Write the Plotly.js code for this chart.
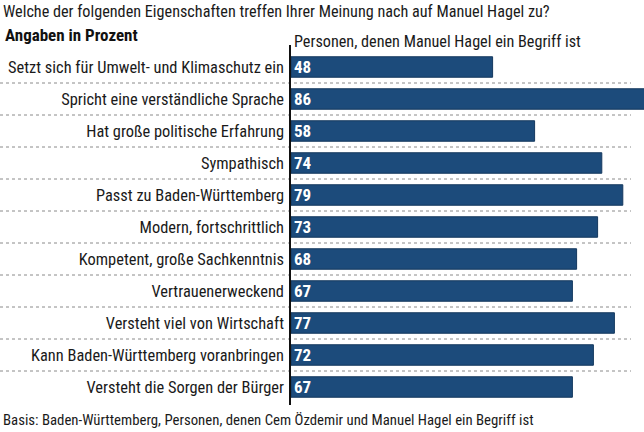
<!DOCTYPE html>
<html>
<head>
<meta charset="utf-8">
<script src="https://cdn.plot.ly/plotly-3.0.1.min.js"></script>
<style>
  html, body { margin: 0; padding: 0; background: #fff; }
  #chart { width: 644px; height: 432px; }
</style>
</head>
<body>
<div id="chart"></div>
<script>
var eigenschaften = [
  "Setzt sich für Umwelt- und Klimaschutz ein",
  "Spricht eine verständliche Sprache",
  "Hat große politische Erfahrung",
  "Sympathisch",
  "Passt zu Baden-Württemberg",
  "Modern, fortschrittlich",
  "Kompetent, große Sachkenntnis",
  "Vertrauenerweckend",
  "Versteht viel von Wirtschaft",
  "Kann Baden-Württemberg voranbringen",
  "Versteht die Sorgen der Bürger"
];
var werte = [48, 86, 58, 74, 79, 73, 68, 67, 77, 72, 67];

var titel = "Welche der folgenden Eigenschaften treffen Ihrer Meinung nach auf Manuel Hagel zu?";
var einheit = "Angaben in Prozent";
var spalte = "Personen, denen Manuel Hagel ein Begriff ist";
var basis = "Basis: Baden-Württemberg, Personen, denen Cem Özdemir und Manuel Hagel ein Begriff ist";

var schrift = "'Roboto Condensed', 'DejaVu Sans Condensed', sans-serif";
var blau = "#1c4b7b";
var textfarbe = "#1a1a1a";

// plot area in pixels
var links = 291, oben = 51, unten = 29, breite = 644 - links, hoehe = 432 - oben - unten;
function px(x) { return (x - links) / breite; }
function py(y) { return (432 - unten - y) / hoehe; }

var trace = {
  type: 'bar',
  orientation: 'h',
  x: werte,
  y: eigenschaften,
  marker: { color: blau, line: { color: '#14385e', width: 1 } },
  text: werte.map(function (v) { return '<b>' + v + '</b>'; }),
  textposition: 'inside',
  insidetextanchor: 'start',
  textangle: 0,
  constraintext: 'none',
  textfont: { family: schrift, size: 17, color: '#fff' },
  hoverinfo: 'none'
};

var shapes = [];
for (var i = 0; i < eigenschaften.length - 1; i++) {
  shapes.push({
    type: 'line', xref: 'paper', yref: 'y',
    x0: px(0), x1: px(631), y0: i + 0.5, y1: i + 0.5,
    line: { color: '#8a8a8a', width: 1, dash: 'dot' },
    layer: 'below'
  });
}
shapes.push({
  type: 'line', xref: 'paper', yref: 'paper',
  x0: px(290), x1: px(290), y0: py(405), y1: py(45),
  line: { color: '#111', width: 2 }
});

var layout = {
  width: 644,
  height: 432,
  margin: { l: links, r: 0, t: oben, b: unten, pad: 0 },
  paper_bgcolor: '#fff',
  plot_bgcolor: 'rgba(0,0,0,0)',
  showlegend: false,
  bargap: 0.36,
  font: { family: schrift, color: textfarbe },
  xaxis: {
    range: [0, breite / 4.2],
    visible: false,
    fixedrange: true
  },
  yaxis: {
    autorange: 'reversed',
    showgrid: false,
    zeroline: false,
    showline: false,
    ticks: '',
    ticklabelstandoff: 6,
    tickfont: { family: schrift, size: 16.4, color: textfarbe },
    fixedrange: true
  },
  shapes: shapes,
  annotations: [
    { text: titel, xref: 'paper', yref: 'paper', x: px(1), y: py(12), xanchor: 'left', yanchor: 'middle',
      showarrow: false, font: { family: schrift, size: 16.2, color: textfarbe } },
    { text: '<b>' + einheit + '</b>', xref: 'paper', yref: 'paper', x: px(3), y: py(35), xanchor: 'left', yanchor: 'middle',
      showarrow: false, font: { family: schrift, size: 17, color: '#111' } },
    { text: spalte, xref: 'paper', yref: 'paper', x: px(292), y: py(42), xanchor: 'left', yanchor: 'middle',
      showarrow: false, font: { family: schrift, size: 16.2, color: textfarbe } },
    { text: basis, xref: 'paper', yref: 'paper', x: px(1), y: py(420), xanchor: 'left', yanchor: 'middle',
      showarrow: false, font: { family: schrift, size: 14.8, color: textfarbe } }
  ]
};

Plotly.newPlot('chart', [trace], layout, { displayModeBar: false, staticPlot: true });
</script>
</body>
</html>
